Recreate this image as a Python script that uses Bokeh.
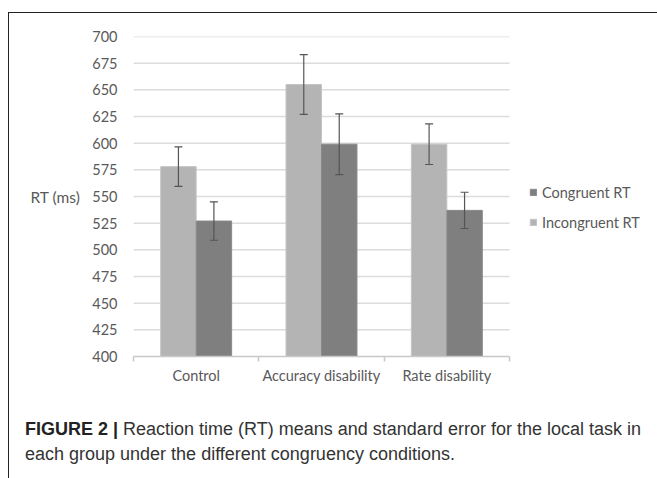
from bokeh.plotting import figure
from bokeh.models import (FixedTicker, Whisker, TeeHead, ColumnDataSource,
                          Legend, LegendItem, Range1d, Div)
from bokeh.layouts import column
from bokeh.embed import file_html
from bokeh.resources import INLINE

# ---- data ----
groups = ["Control", "Accuracy disability", "Rate disability"]
incongruent = [578, 655, 599]
incongruent_se = [18.5, 28, 19]
congruent = [527, 599, 537]
congruent_se = [18, 28.5, 17]
y_ticks = [400, 425, 450, 475, 500, 525, 550, 575, 600, 625, 650, 675, 700]
caption_bold = "FIGURE 2 |"
caption_lines = ["Reaction time (RT) means and standard error for the local task in",
                 "each group under the different congruency conditions."]

# ---- styles ----
TXT = "#595959"
FONT = "Lato"
FS = "14.5px"
C_INC = "#b4b4b4"
C_CON = "#7f7f7f"
BAR_W = 0.283
W, H = 646, 382
LEFT, TOP = 124, 23
PLOT_W, PLOT_H = 376, 320          # pixel size of the bar area
FRAME_W = W - LEFT                 # frame also hosts the legend on the right

n = len(groups)
centers = [i + 0.5 for i in range(n)]
src_inc = ColumnDataSource(dict(
    x=[c - BAR_W / 2 for c in centers], top=incongruent,
    upper=[v + e for v, e in zip(incongruent, incongruent_se)],
    lower=[v - e for v, e in zip(incongruent, incongruent_se)]))
src_con = ColumnDataSource(dict(
    x=[c + BAR_W / 2 for c in centers], top=congruent,
    upper=[v + e for v, e in zip(congruent, congruent_se)],
    lower=[v - e for v, e in zip(congruent, congruent_se)]))

p = figure(width=W, height=H, output_backend="svg", toolbar_location=None,
           title=None, x_range=Range1d(0, n * FRAME_W / PLOT_W),
           y_range=Range1d(y_ticks[0], y_ticks[-1]))
p.min_border_left = LEFT
p.min_border_right = 0
p.min_border_top = TOP
p.min_border_bottom = H - TOP - PLOT_H
p.outline_line_color = None
p.background_fill_color = "white"
p.border_fill_color = "white"

# grid lines only across the bar area
p.xgrid.grid_line_color = None
p.ygrid.grid_line_color = None
grid_src = ColumnDataSource(dict(y=y_ticks[1:]))
p.segment(x0=0, x1=n, y0="y", y1="y", source=grid_src,
          line_color="#dcdcdc", line_width=1.5)

# y axis
p.yaxis.ticker = FixedTicker(ticks=y_ticks)
p.yaxis.axis_line_color = None
p.yaxis.major_tick_line_color = None
p.yaxis.minor_tick_line_color = None
p.yaxis.major_label_standoff = 10
p.yaxis.major_label_text_font = FONT
p.yaxis.major_label_text_font_size = FS
p.yaxis.major_label_text_color = TXT
p.yaxis.axis_label = "RT (ms)"
p.yaxis.axis_label_orientation = "horizontal"
p.yaxis.axis_label_standoff = 9
p.yaxis.axis_label_text_font = FONT
p.yaxis.axis_label_text_font_size = "15.5px"
p.yaxis.axis_label_text_font_style = "normal"
p.yaxis.axis_label_text_color = TXT

# x axis
p.xaxis.bounds = (0, n)
p.xaxis.ticker = FixedTicker(ticks=centers, minor_ticks=list(range(n + 1)))
p.xaxis.major_label_overrides = {c: g for c, g in zip(centers, groups)}
p.xaxis.axis_line_color = "#c8c8c8"
p.xaxis.axis_line_width = 1.5
p.xaxis.major_tick_line_color = None
p.xaxis.major_tick_out = 0
p.xaxis.major_tick_in = 0
p.xaxis.minor_tick_line_color = "#c8c8c8"
p.xaxis.minor_tick_line_width = 1.5
p.xaxis.minor_tick_out = 5
p.xaxis.minor_tick_in = 0
p.xaxis.major_label_standoff = 5
p.xaxis.major_label_text_font = FONT
p.xaxis.major_label_text_font_size = FS
p.xaxis.major_label_text_color = TXT

r_inc = p.vbar(x="x", top="top", bottom=y_ticks[0], width=BAR_W, source=src_inc,
               fill_color=C_INC, line_color="#c4c4c4", line_width=1)
r_con = p.vbar(x="x", top="top", bottom=y_ticks[0], width=BAR_W, source=src_con,
               fill_color=C_CON, line_color="#8a8a8a", line_width=1)

for s in (src_inc, src_con):
    w = Whisker(source=s, base="x", upper="upper", lower="lower", level="overlay",
                line_color="#555555", line_width=1.2,
                upper_head=TeeHead(size=8, line_color="#555555", line_width=1.2),
                lower_head=TeeHead(size=8, line_color="#555555", line_width=1.2))
    p.add_layout(w)

legend = Legend(items=[LegendItem(label="Congruent RT", renderers=[r_con]),
                       LegendItem(label="Incongruent RT", renderers=[r_inc])],
                location=(396, 124), orientation="vertical",
                border_line_alpha=0, background_fill_alpha=0,
                padding=0, margin=0, spacing=10,
                glyph_width=8, glyph_height=8, label_height=20,
                label_standoff=5, label_text_font=FONT,
                label_text_font_size=FS, label_text_color=TXT)
p.add_layout(legend, "center")

cap = Div(text=f"<b style='color:#222'>{caption_bold}</b> {caption_lines[0]}<br>{caption_lines[1]}",
          width=W, height=478 - 13 - H,
          styles={"font-family": "'Liberation Sans', Arial, sans-serif",
                  "font-size": "18px", "line-height": "25px", "color": "#333333",
                  "padding-left": "11px", "padding-top": "17px",
                  "white-space": "nowrap"})

layout = column(p, cap, spacing=0,
                styles={"margin-left": "8px", "margin-top": "12px",
                        "border-left": "1px solid #222", "border-top": "1px solid #222"})

open("out.html", "w").write(file_html(layout, INLINE))
